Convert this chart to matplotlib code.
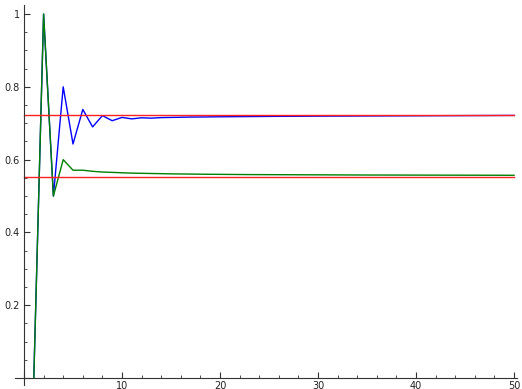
import matplotlib
matplotlib.use("Agg")
import matplotlib.pyplot as plt
from matplotlib.ticker import MultipleLocator, FuncFormatter

n = list(range(1, 51))

# blue sequence
blue = [0.0, 1.0, 0.5, 0.8, 0.643, 0.738, 0.690, 0.721, 0.707, 0.716,
        0.712, 0.715, 0.714, 0.7155, 0.716, 0.7165, 0.717, 0.7172, 0.7175, 0.7178,
        0.718, 0.7182, 0.7184, 0.7186, 0.7188, 0.719, 0.7191, 0.7192, 0.7194, 0.7195,
        0.7196, 0.7197, 0.7198, 0.7199, 0.72, 0.7201, 0.7202, 0.7203, 0.7204, 0.7205,
        0.7206, 0.7207, 0.7208, 0.7209, 0.721, 0.7211, 0.7212, 0.7213, 0.7214, 0.7215]

# green sequence
green = [0.0, 1.0, 0.5, 0.6, 0.571, 0.571, 0.568, 0.566, 0.565, 0.564,
         0.563, 0.5625, 0.562, 0.5615, 0.561, 0.5607, 0.5604, 0.5601, 0.5598, 0.5596,
         0.5594, 0.5592, 0.559, 0.5589, 0.5588, 0.5587, 0.5586, 0.5585, 0.5584, 0.5583,
         0.5582, 0.5581, 0.558, 0.5579, 0.5578, 0.5578, 0.5577, 0.5577, 0.5576, 0.5576,
         0.5575, 0.5575, 0.5574, 0.5574, 0.5573, 0.5573, 0.5572, 0.5572, 0.5571, 0.5571]

# horizontal reference levels
limits = [0.7236, 0.5528]

fig = plt.figure(figsize=(5.22, 3.89), dpi=100)
ax = fig.add_axes([0.0287, 0.0103, 0.9617, 0.977])

ax.plot(n, blue, color="blue", lw=1.0)
ax.plot(n, green, color="#008000", lw=1.0)
for v in limits:
    ax.plot([0, 50], [v, v], color="#ff2020", lw=1.0)

ax.set_xlim(-0.92, 50.3)
ax.set_ylim(-0.019, 1.025)

# sage-like axes crossing at the origin
ax.spines["left"].set_position(("data", 0))
ax.spines["bottom"].set_position(("data", 0))
ax.spines["top"].set_visible(False)
ax.spines["right"].set_visible(False)
for s in ("left", "bottom"):
    ax.spines[s].set_color("#333333")
    ax.spines[s].set_linewidth(0.8)

ax.xaxis.set_major_locator(MultipleLocator(10))
ax.xaxis.set_minor_locator(MultipleLocator(2))
ax.yaxis.set_major_locator(MultipleLocator(0.2))
ax.yaxis.set_minor_locator(MultipleLocator(0.05))

def fmt(v, pos):
    if abs(v) < 1e-9:
        return ""
    return "%g" % round(v, 2)

ax.xaxis.set_major_formatter(FuncFormatter(fmt))
ax.yaxis.set_major_formatter(FuncFormatter(fmt))
ax.tick_params(which="major", direction="in", length=4, width=0.8,
               color="#333333", labelsize=7, labelcolor="#222222")
ax.tick_params(which="minor", direction="in", length=2, width=0.6, color="#333333")
ax.tick_params(axis="x", pad=2)
ax.tick_params(axis="y", pad=3)

fig.savefig("out.png", dpi=100)
